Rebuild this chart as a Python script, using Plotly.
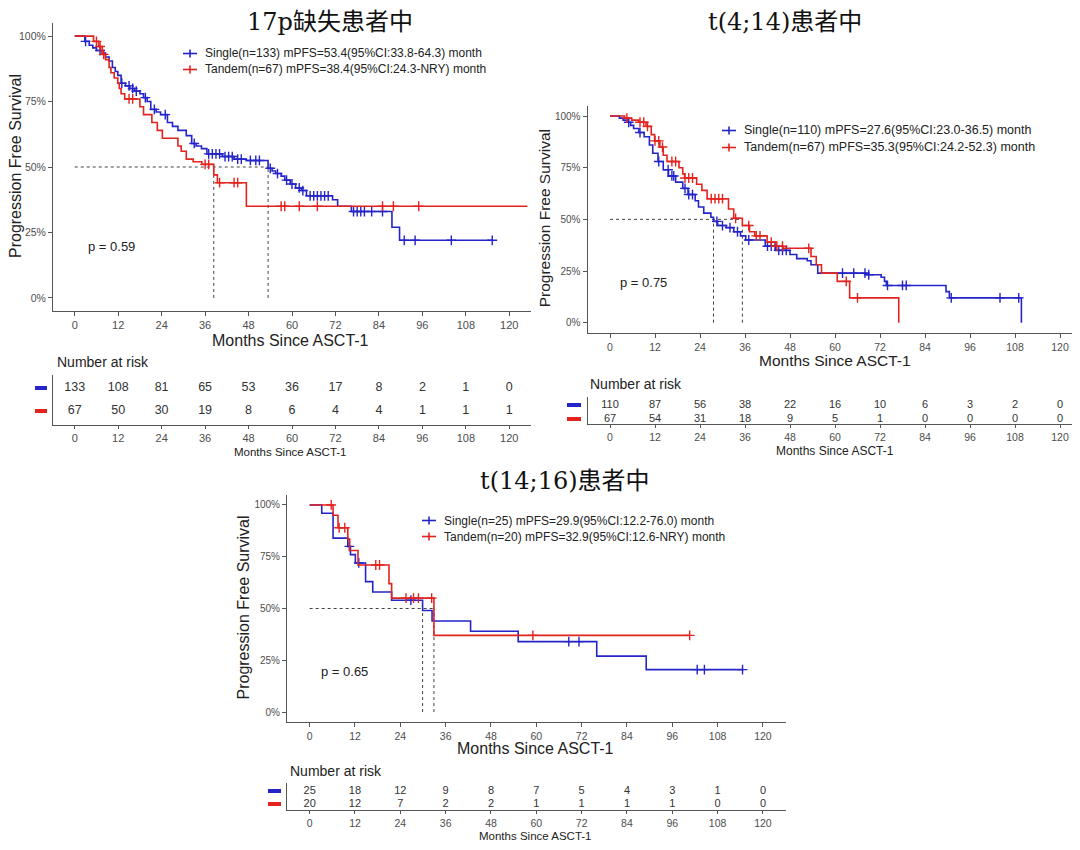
import numpy as np
import plotly.graph_objects as go

# page body has an 8px margin; size the figure so reference pixel coordinates map 1:1
OX, OY = 8, 8
FW, FH = 1064, 834
BLUE = "#2424C8"
RED = "#E2231E"
GREY = "#4D4D4D"
AX = "#555555"
SANS = "Liberation Sans, Arial, sans-serif"
SERIF = "DejaVu Serif, Noto Sans CJK SC, serif"

# ---------------- data ----------------
risk_times = [0, 12, 24, 36, 48, 60, 72, 84, 96, 108, 120]

# Panel 1: 17p deletion
p1_single_t = [0, 2.8, 4.0, 5.0, 6.0, 7.6, 8.5, 9.5, 10.4, 11.2, 11.9, 12.8, 14.0, 15.2, 16.5, 18.0, 19.0,
               20.0, 21.0, 22.5, 23.7, 25.6, 27.0, 28.5, 30.8, 32.3, 33.5, 35.0, 36.5, 40.8, 44.0, 47.4,
               53.4, 54.5, 55.5, 57.0, 58.0, 59.5, 61.0, 62.6, 64.0, 71.2, 72.6, 76.4, 87.6, 89.7, 115.3]
p1_single_s = [1.0, 0.98, 0.965, 0.955, 0.945, 0.935, 0.92, 0.905, 0.88, 0.865, 0.85, 0.82, 0.81, 0.80, 0.79,
               0.78, 0.765, 0.75, 0.72, 0.71, 0.70, 0.67, 0.655, 0.64, 0.62, 0.59, 0.58, 0.57, 0.55, 0.54,
               0.53, 0.525, 0.495, 0.485, 0.475, 0.465, 0.45, 0.435, 0.42, 0.41, 0.39, 0.375, 0.35, 0.33,
               0.27, 0.22, 0.22]
p1_single_cens = [3.0, 7.0, 13.0, 15.0, 16.0, 17.0, 19.5, 22.0, 25.0, 33.0, 37.0, 38.0, 39.0, 40.0, 41.5, 42.5,
                  43.5, 45.0, 46.0, 48.5, 50.0, 51.0, 54.0, 56.0, 58.5, 60.0, 62.0, 63.0, 65.0, 66.0, 67.0,
                  68.0, 69.0, 70.0, 77.0, 78.0, 79.0, 80.0, 82.0, 85.0, 91.0, 94.0, 104.0, 115.3]
p1_tandem_t = [0, 5.2, 6.6, 7.6, 8.5, 9.5, 10.0, 10.9, 11.9, 12.3, 12.8, 13.8, 18.0, 19.0, 21.3, 22.8, 24.2,
               28.5, 29.4, 30.8, 32.7, 35.1, 38.4, 39.4, 47.4, 125.0]
p1_tandem_s = [1.0, 0.98, 0.96, 0.93, 0.91, 0.88, 0.86, 0.84, 0.82, 0.80, 0.78, 0.76, 0.73, 0.70, 0.67, 0.64,
               0.61, 0.58, 0.56, 0.53, 0.52, 0.51, 0.47, 0.44, 0.35, 0.35]
p1_tandem_cens = [6.0, 7.0, 8.0, 15.0, 16.0, 36.0, 37.0, 40.0, 44.0, 45.0, 57.0, 58.0, 62.0, 67.0, 85.0, 88.0, 95.0]
p1_median = [53.4, 38.4]
p1_risk_single = [133, 108, 81, 65, 53, 36, 17, 8, 2, 1, 0]
p1_risk_tandem = [67, 50, 30, 19, 8, 6, 4, 4, 1, 1, 1]

# Panel 2: t(4;14)
p2_single_t = [0, 2.5, 3.5, 4.9, 5.5, 6.3, 7.7, 9.1, 10.5, 11.4, 12.8, 14.2, 15.6, 17.5, 19.4, 20.8, 22.7,
               23.6, 25.0, 26.9, 27.6, 28.7, 31.0, 33.0, 34.8, 36.2, 41.4, 44.2, 48.0, 49.8, 52.6, 53.6,
               55.4, 68.5, 72.3, 73.2, 73.7, 89.6, 90.5, 109.7]
p2_single_s = [1.0, 0.99, 0.98, 0.97, 0.955, 0.94, 0.92, 0.90, 0.86, 0.82, 0.78, 0.74, 0.71, 0.68, 0.65, 0.62,
               0.59, 0.56, 0.53, 0.51, 0.49, 0.47, 0.46, 0.44, 0.42, 0.40, 0.37, 0.35, 0.33, 0.31, 0.30,
               0.28, 0.24, 0.232, 0.22, 0.20, 0.18, 0.15, 0.12, 0.0]
p2_single_cens = [5.0, 8.0, 13.0, 15.5, 16.5, 17.0, 20.0, 21.0, 22.0, 28.5, 30.0, 32.0, 34.0, 37.0, 42.0,
                  43.0, 44.0, 45.0, 46.0, 47.0, 62.0, 65.0, 68.0, 69.0, 74.0, 78.0, 79.0, 91.0, 104.0, 109.0]
p2_tandem_t = [0, 3.9, 5.8, 7.7, 9.6, 11.0, 11.9, 13.3, 14.2, 15.2, 18.4, 19.4, 19.9, 23.1, 24.5, 25.9, 31.6,
               33.0, 35.3, 37.2, 38.6, 41.9, 44.2, 46.1, 53.6, 55.0, 56.4, 60.6, 63.9, 77.0]
p2_tandem_s = [1.0, 0.99, 0.98, 0.97, 0.95, 0.91, 0.88, 0.85, 0.81, 0.78, 0.75, 0.72, 0.70, 0.67, 0.64, 0.60,
               0.55, 0.505, 0.47, 0.44, 0.42, 0.39, 0.37, 0.36, 0.32, 0.28, 0.24, 0.20, 0.12, 0.0]
p2_tandem_cens = [4.5, 8.0, 9.0, 10.0, 12.0, 13.0, 14.0, 16.5, 17.5, 20.0, 21.0, 22.0, 27.0, 28.0, 29.0,
                  30.0, 33.5, 37.0, 39.0, 40.0, 43.0, 44.5, 46.0, 53.0, 63.0, 66.0]
p2_median = [27.6, 35.3]
p2_risk_single = [110, 87, 56, 38, 22, 16, 10, 6, 3, 2, 0]
p2_risk_tandem = [67, 54, 31, 18, 9, 5, 1, 0, 0, 0, 0]

# Panel 3: t(14;16)
p3_single_t = [0, 3.2, 6.2, 10.1, 10.8, 12.1, 14.8, 16.7, 21.7, 29.9, 32.4, 42.6, 55.2, 76.0, 89.1, 114.8]
p3_single_s = [1.0, 0.96, 0.84, 0.80, 0.76, 0.72, 0.63, 0.58, 0.54, 0.49, 0.44, 0.39, 0.34, 0.27, 0.205, 0.205]
p3_single_cens = [10.5, 13.0, 26.8, 68.6, 71.3, 102.6, 104.5, 114.6]
p3_tandem_t = [0, 6.2, 7.5, 10.1, 10.6, 12.8, 21.0, 21.7, 32.9, 100.6]
p3_tandem_s = [1.0, 0.95, 0.89, 0.835, 0.78, 0.71, 0.62, 0.55, 0.37, 0.37]
p3_tandem_cens = [5.7, 7.8, 9.3, 17.5, 18.5, 25.5, 27.5, 28.8, 32.3, 59.1, 100.6]
p3_median = [29.9, 32.9]
p3_risk_single = [25, 18, 12, 9, 8, 7, 5, 4, 3, 1, 0]
p3_risk_tandem = [20, 12, 7, 2, 2, 1, 1, 1, 1, 0, 0]

titles = ["17p缺失患者中", "t(4;14)患者中", "t(14;16)患者中"]
legend_single = ["Single(n=133) mPFS=53.4(95%CI:33.8-64.3) month",
                 "Single(n=110) mPFS=27.6(95%CI:23.0-36.5) month",
                 "Single(n=25) mPFS=29.9(95%CI:12.2-76.0) month"]
legend_tandem = ["Tandem(n=67) mPFS=38.4(95%CI:24.3-NRY) month",
                 "Tandem(n=67) mPFS=35.3(95%CI:24.2-52.3) month",
                 "Tandem(n=20) mPFS=32.9(95%CI:12.6-NRY) month"]
pvals = ["p = 0.59", "p = 0.75", "p = 0.65"]

# ---------------- helpers ----------------
def px(x):
    return (x - OX) / FW

def py(y):
    return 1 - (y - OY) / FH

def step_val(t, s, x):
    t = np.asarray(t); s = np.asarray(s)
    i = np.searchsorted(t, x, side="right") - 1
    return s[np.clip(i, 0, len(s) - 1)]

fig = go.Figure()
shapes = []
annotations = []

panels = [
    dict(curves=[(p1_single_t, p1_single_s, p1_single_cens, BLUE), (p1_tandem_t, p1_tandem_s, p1_tandem_cens, RED)],
         med=p1_median, rs=p1_risk_single, rt=p1_risk_tandem,
         main_x=(53, 531), main_y=(23, 311), xr=[-6, 126],
         risk_y=(375, 425), row_y=(388, 411),
         title_xy=(330, 22), ytitle_x=16, xtitle_y=340, xtitle_cx=290, leg_xy=(183, 53.5, 69.5),
         pv=(3.0, 0.195), nar=(55, 362), rxt_y=452, rxt_fs=11.5, dash_x=(35, 47), tickfs=11, rfs=12.5, lfs=12,
         axfs=16),
    dict(curves=[(p2_single_t, p2_single_s, p2_single_cens, BLUE), (p2_tandem_t, p2_tandem_s, p2_tandem_cens, RED)],
         med=p2_median, rs=p2_risk_single, rt=p2_risk_tandem,
         main_x=(587.5, 1072), main_y=(105.7, 333), xr=[-6, 123.2],
         risk_y=(397, 424), row_y=(405, 419),
         title_xy=(785, 22), ytitle_x=544, xtitle_y=360, xtitle_cx=835, leg_xy=(722, 130.5, 147.5),
         pv=(2.0, 0.194), nar=(588, 384), rxt_y=451, rxt_fs=12, dash_x=(567, 581), tickfs=10.5, rfs=11, lfs=12.5,
         axfs=15.5),
    dict(curves=[(p3_single_t, p3_single_s, p3_single_cens, BLUE), (p3_tandem_t, p3_tandem_s, p3_tandem_cens, RED)],
         med=p3_median, rs=p3_risk_single, rt=p3_risk_tandem,
         main_x=(287, 785.6), main_y=(494.6, 722.4), xr=[-6, 126],
         risk_y=(783, 810), row_y=(791, 804),
         title_xy=(565, 481), ytitle_x=243, xtitle_y=748, xtitle_cx=535, leg_xy=(422, 520.5, 536.5),
         pv=(2.5, 0.195), nar=(288, 771), rxt_y=836, rxt_fs=11.5, dash_x=(268, 281), tickfs=10.5, rfs=11, lfs=12,
         axfs=16),
]

layout_axes = {}
for k, P in enumerate(panels):
    ma = 2 * k + 1
    ra = 2 * k + 2
    xm = "x" if ma == 1 else f"x{ma}"
    ym = "y" if ma == 1 else f"y{ma}"
    xrk = f"x{ra}"
    yrk = f"y{ra}"
    x0, x1 = P["main_x"]
    ytop, ybot = P["main_y"]
    common_x = dict(range=P["xr"], tickvals=risk_times, ticktext=[str(v) for v in risk_times],
                    showline=True, linecolor=AX, linewidth=1, ticks="outside", ticklen=4, tickcolor=AX,
                    showgrid=False, zeroline=False, tickfont=dict(family=SANS, size=P["tickfs"], color=GREY),
                    domain=[px(x0), min(px(x1), 1.0)], fixedrange=True)
    layout_axes["xaxis" if ma == 1 else f"xaxis{ma}"] = dict(common_x, anchor=ym)
    layout_axes["yaxis" if ma == 1 else f"yaxis{ma}"] = dict(
        range=[-0.05, 1.05], tickvals=[0, 0.25, 0.5, 0.75, 1.0], ticktext=["0%", "25%", "50%", "75%", "100%"],
        showline=True, linecolor=AX, linewidth=1, ticks="outside", ticklen=4, tickcolor=AX, showgrid=False,
        zeroline=False, tickfont=dict(family=SANS, size=P["tickfs"] - 0.5, color=GREY),
        domain=[py(ybot), py(ytop)], anchor=xm, fixedrange=True)
    rt_, rb_ = P["risk_y"]
    layout_axes[f"xaxis{ra}"] = dict(common_x, anchor=yrk, ticklen=3)
    layout_axes[f"yaxis{ra}"] = dict(range=[0, 1], showticklabels=False, ticks="", showline=True, linecolor=AX,
                                     linewidth=1, showgrid=False, zeroline=False,
                                     domain=[py(rb_), py(rt_)], anchor=xrk, fixedrange=True)

    # median lines
    med = P["med"]
    mmax = max(med)
    fig.add_trace(go.Scatter(x=[0, mmax], y=[0.5, 0.5], mode="lines", xaxis=xm, yaxis=ym, showlegend=False,
                             line=dict(color="#444444", width=1, dash="3px,3px"), hoverinfo="skip"))
    for m in med:
        fig.add_trace(go.Scatter(x=[m, m], y=[0, 0.5], mode="lines", xaxis=xm, yaxis=ym, showlegend=False,
                                 line=dict(color="#444444", width=1, dash="3px,3px"), hoverinfo="skip"))

    # curves
    for (t, s, cens, col) in P["curves"]:
        fig.add_trace(go.Scatter(x=t, y=s, mode="lines", line=dict(color=col, width=1.6, shape="hv"),
                                 xaxis=xm, yaxis=ym, showlegend=False))
        cy = step_val(t, s, cens)
        fig.add_trace(go.Scatter(x=cens, y=cy, mode="markers", xaxis=xm, yaxis=ym, showlegend=False,
                                 marker=dict(symbol="cross-thin", size=7, line=dict(color=col, width=1.4))))

    # risk table
    rb, rr = P["row_y"]
    yb = (rb_ - rb) / (rb_ - rt_)
    yr = (rb_ - rr) / (rb_ - rt_)
    for vals, yy in ((P["rs"], yb), (P["rt"], yr)):
        fig.add_trace(go.Scatter(x=risk_times, y=[yy] * len(risk_times), mode="text",
                                 text=[str(v) for v in vals], xaxis=xrk, yaxis=yrk, showlegend=False,
                                 textfont=dict(family=SANS, size=P["rfs"], color="#333333")))
    # colour dashes for rows
    dx0, dx1 = P["dash_x"]
    for yy, col in ((rb, BLUE), (rr, RED)):
        shapes.append(dict(type="line", xref="paper", yref="paper", x0=px(dx0), x1=px(dx1), y0=py(yy), y1=py(yy),
                           line=dict(color=col, width=4)))

    # titles and text
    tx, ty = P["title_xy"]
    annotations.append(dict(text=titles[k], x=px(tx), y=py(ty), xref="paper", yref="paper", showarrow=False,
                            font=dict(family=SERIF, size=24, color="#111111"), xanchor="center", yanchor="middle"))
    annotations.append(dict(text="Progression Free Survival", x=px(P["ytitle_x"]), y=py((ytop + ybot) / 2 - 1),
                            xref="paper", yref="paper", showarrow=False, textangle=-90,
                            font=dict(family=SANS, size=P["axfs"], color="#222222"),
                            xanchor="center", yanchor="middle"))
    annotations.append(dict(text="Months Since ASCT-1", x=px(P["xtitle_cx"]), y=py(P["xtitle_y"]),
                            xref="paper", yref="paper", showarrow=False,
                            font=dict(family=SANS, size=P["axfs"], color="#222222"),
                            xanchor="center", yanchor="middle"))
    annotations.append(dict(text="Months Since ASCT-1", x=px(P["xtitle_cx"]), y=py(P["rxt_y"]),
                            xref="paper", yref="paper", showarrow=False,
                            font=dict(family=SANS, size=P["rxt_fs"], color="#222222"),
                            xanchor="center", yanchor="middle"))
    nx, ny = P["nar"]
    annotations.append(dict(text="Number at risk", x=px(nx), y=py(ny), xref="paper", yref="paper",
                            showarrow=False, font=dict(family=SANS, size=14, color="#222222"),
                            xanchor="left", yanchor="middle"))
    pvx, pvy = P["pv"]
    annotations.append(dict(text=pvals[k], x=pvx, y=pvy, xref=xm, yref=ym, showarrow=False,
                            font=dict(family=SANS, size=13, color="#222222"), xanchor="left", yanchor="middle"))

    # legend (manual)
    lx, ly1, ly2 = P["leg_xy"]
    for yy, col, txt in ((ly1, BLUE, legend_single[k]), (ly2, RED, legend_tandem[k])):
        shapes.append(dict(type="line", xref="paper", yref="paper", x0=px(lx), x1=px(lx + 14),
                           y0=py(yy), y1=py(yy), line=dict(color=col, width=1.6)))
        shapes.append(dict(type="line", xref="paper", yref="paper", x0=px(lx + 7), x1=px(lx + 7),
                           y0=py(yy - 4), y1=py(yy + 4), line=dict(color=col, width=1.6)))
        annotations.append(dict(text=txt, x=px(lx + 20), y=py(yy), xref="paper", yref="paper", showarrow=False,
                                font=dict(family=SANS, size=P["lfs"], color="#222222"),
                                xanchor="left", yanchor="middle"))

fig.update_layout(width=FW, height=FH, margin=dict(l=0, r=0, t=0, b=0), plot_bgcolor="white",
                  paper_bgcolor="white", showlegend=False, shapes=shapes, annotations=annotations,
                  **layout_axes)

fig.write_html("out.html", config={"displayModeBar": False})
